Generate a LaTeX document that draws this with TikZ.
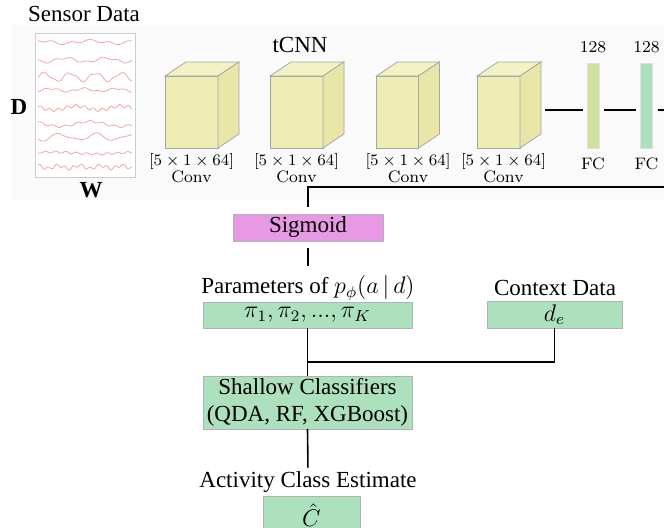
\documentclass[tikz,border=0pt]{standalone}
\usepackage{fontspec}
\setmainfont{Liberation Serif}
\usepackage{amsmath}
\usetikzlibrary{positioning}

\definecolor{boxgreen}{RGB}{173,224,188}
\definecolor{sigviolet}{RGB}{232,153,230}
\definecolor{fclime}{RGB}{207,224,160}
\definecolor{cubefront}{RGB}{238,237,180}
\definecolor{cubetop}{RGB}{243,242,196}
\definecolor{cubeside}{RGB}{232,231,168}
\definecolor{trace}{RGB}{244,165,165}

\newcommand{\mainsz}{\fontsize{11.5}{13.5}\selectfont}
\newcommand{\smallsz}{\fontsize{8.3}{9}\fontfamily{lmr}\selectfont}

\begin{document}
\begin{tikzpicture}[x=0.5pt,y=-0.5pt,
      every node/.style={inner sep=0pt,outer sep=0pt},
      title/.style={font=\mainsz},
      small/.style={font=\smallsz},
      box/.style={draw=black!30,fill=boxgreen,font=\mainsz,align=center},
      cube/.style={draw=black!35,fill=cubefront,minimum height=36pt},
      fc/.style={draw=black!12,minimum width=6pt,minimum height=42.5pt},
      link/.style={line width=0.8pt}]

  \useasboundingbox (0,0) rectangle (664,528);
  \clip (0,0) rectangle (664,528);
  \fill[black!2] (12,25) rectangle (664,200);

  % input window
  \node[title] (senslbl) at (84,14) {Sensor Data};
  \node[draw=black!20,fill=white,minimum width=50pt,minimum height=72pt] (sensor) at (85,105) {};
  \node[title,font=\mainsz\bfseries] (dlbl) at (19,107) {D};
  \node[title,font=\mainsz\bfseries] (wlbl) at (91,190) {W};
  \foreach \yy/\a/\f/\p/\b/\g in {42/1.5/7/0/1.2/19, 60/2/9/40/1/23, 77/4/14/10/1/31,
      90/1.5/11/70/0.8/27, 108/2/8/20/1.5/41, 124/2.5/6/90/1/29,
      137/3/10/30/1.2/17, 153/1/4/60/1/35, 167/1.5/17/0/1.5/43}
    \draw[trace,line width=0.4pt] plot[domain=38:132,samples=90,smooth]
      (\x,{\yy+\a*sin(\f*\x+\p)+\b*sin(\g*\x+2*\p)});

  % temporal conv blocks
  \node[title] (tcnn) at (300,45) {tCNN};
  \foreach \i/\x/\w/\l in {1/191.5/53/191.5, 2/296.5/53/296.5, 3/397.5/42/408, 4/498.5/43/503.5} {
    \node[cube,minimum width=\w*0.5pt] (conv\i) at (\x,112) {};
    \filldraw[draw=black!35,fill=cubetop] (conv\i.north west) -- ++(21,-14) -- ++(\w,0) -- (conv\i.north east) -- cycle;
    \filldraw[draw=black!35,fill=cubeside] (conv\i.north east) -- ++(21,-14) -- ++(0,72) -- (conv\i.south east) -- cycle;
    \node[small] at (\l,162) {$[5\times 1\times 64]$};
    \node[small] at (\l,177) {Conv};
  }

  % dense layers
  \node[fc,fill=fclime] (fc1) at (593,105.5) {};
  \node[fc,fill=boxgreen] (fc2) at (646.5,105.5) {};
  \node[small,above=5pt of fc1] {128};
  \node[small,above=5pt of fc2] {128};
  \node[small,below=5pt of fc1] {FC};
  \node[small,below=5pt of fc2] {FC};
  \coordinate (c4r) at (545,110);
  \coordinate (turn) at (674,110);

  % heads
  \node[box,fill=sigviolet,minimum width=75pt,minimum height=13.5pt] (sig) at (308,227.5) {Sigmoid};
  \node[title] (paramlbl) at (308,288) {Parameters of $p_\phi(a\,|\,d)$};
  \node[box,minimum width=104.5pt,minimum height=13pt] (params) at (307.5,315) {$\pi_1, \pi_2, ..., \pi_K$};
  \node[title] (ctxlbl) at (555,288) {Context Data};
  \node[box,minimum width=67.5pt,minimum height=13.5pt] (ctx) at (554.5,314.5) {$d_e$};
  \coordinate (join) at (308,362);
  \node[box,minimum width=104.5pt,minimum height=26.5pt] (shallow) at (307.5,402.5) {Shallow Classifiers\\(QDA, RF, XGBoost)};
  \node[title] (outlbl) at (308,482) {Activity Class Estimate};
  \node[box,minimum width=48.5pt,minimum height=19pt] (out) at (311.5,515) {$\hat{C}$};

  \draw[link,shorten >=2pt] (c4r) -- (fc1.west |- c4r);
  \draw[link,shorten <=2.5pt,shorten >=2.5pt] (fc1.east |- c4r) -- (fc2.west |- c4r);
  \draw[link,shorten <=2.5pt,shorten >=3.5pt] (fc2.east |- c4r) -- (turn) |- (308,187) -- (sig.north);
  \draw[link,shorten <=3.5pt,shorten >=5pt] (sig.south) -- (paramlbl.north);
  \draw[link] (params.south) -- (shallow.north);
  \draw[link] (ctx.south) |- (join);
  \draw[link,shorten >=2pt] (shallow.south) -- (outlbl.north);
\end{tikzpicture}
\end{document}
